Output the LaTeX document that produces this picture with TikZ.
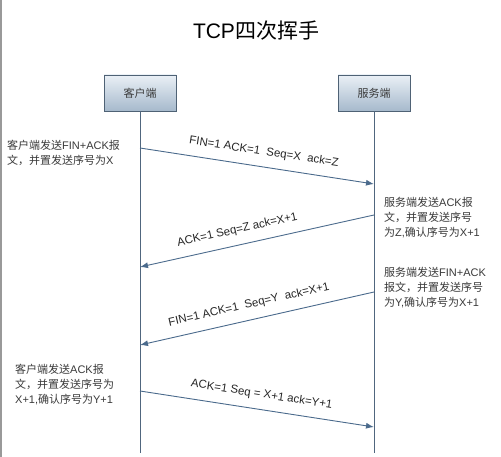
\documentclass[tikz,border=0pt]{standalone}
\usepackage{fontspec}
\setmainfont{Liberation Sans}
\newfontfamily\cjk{Noto Sans CJK SC}
\usetikzlibrary{arrows.meta}
\newcommand\zh[1]{{\cjk #1}}
\definecolor{lifec}{HTML}{50667E}
\definecolor{arrc}{HTML}{4A6A8C}
\definecolor{boxtop}{HTML}{EAF0F6}
\definecolor{boxbot}{HTML}{A6B9CC}
\definecolor{boxline}{HTML}{4F6275}
\definecolor{txtc}{HTML}{3A3A3A}
\tikzset{
  actor/.style={draw=boxline, line width=0.9pt, top color=boxtop, bottom color=boxbot,
    minimum width=72pt, minimum height=36pt, inner sep=0pt, text=txtc,
    font=\fontsize{11}{13}\selectfont\cjk},
  life/.style={draw=lifec, line width=0.9pt},
  msg/.style={draw=arrc, line width=0.9pt, -{Latex[length=8pt,width=6pt]}},
  msglabel/.style={sloped, above=8pt, inner sep=1pt, text=black!85,
    font=\fontsize{11.5}{13}\selectfont},
  note/.style={anchor=north west, align=left, inner sep=0pt, text=txtc,
    font=\fontsize{11}{15}\selectfont},
}
\begin{document}
\begin{tikzpicture}[x=1pt,y=-1pt]
\useasboundingbox (0,0) rectangle (501,457);
\fill[white] (0,0) rectangle (501,457);
\draw[gray!80, line width=1.5pt] (0.75,0) -- (0.75,457);
% title
\node (title) at (256,31) {\fontsize{21}{24}\selectfont TCP\zh{四次挥手}};
% actors
\node[actor] (client) at (140,93) {客户端};
\node[actor] (server) at (374,93) {服务端};
\coordinate (cend) at (140,453);
\coordinate (send) at (374,453);
\draw[life] (client.south) -- (cend);
\draw[life] (server.south) -- (send);
% message points
\coordinate (c1) at (140,148);
\coordinate (s1) at (374,184);
\coordinate (s2) at (374,215);
\coordinate (c2) at (140,267);
\coordinate (s3) at (374,292);
\coordinate (c3) at (140,345);
\coordinate (c4) at (140,391);
\coordinate (s4) at (374,427);
\draw[msg] (c1) -- node[msglabel, pos=0.52] {FIN=1 ACK=1\ \ Seq=X\ \ ack=Z} (s1);
\draw[msg] (s2) -- node[msglabel, pos=0.57] {ACK=1 Seq=Z ack=X+1} (c2);
\draw[msg] (s3) -- node[msglabel, pos=0.52] {FIN=1 ACK=1\ \ Seq=Y\ \ ack=X+1} (c3);
\draw[msg] (c4) -- node[msglabel, pos=0.51] {ACK=1 Seq = X+1 ack=Y+1} (s4);
% notes
\node[note] (n1) at (7,140) {\zh{客户端发送}FIN+ACK\zh{报}\\\zh{文，并置发送序号为}X};
\node[note] (n2) at (384,197) {\zh{服务端发送}ACK\zh{报}\\\zh{文，并置发送序号}\\\zh{为}Z,\zh{确认序号为}X+1};
\node[note] (n3) at (384,267) {\zh{服务端发送}FIN+ACK\\\zh{报文，并置发送序号}\\\zh{为}Y,\zh{确认序号为}X+1};
\node[note] (n4) at (15,364) {\zh{客户端发送}ACK\zh{报}\\\zh{文，并置发送序号为}\\X+1,\zh{确认序号为}Y+1};
\end{tikzpicture}
\end{document}
